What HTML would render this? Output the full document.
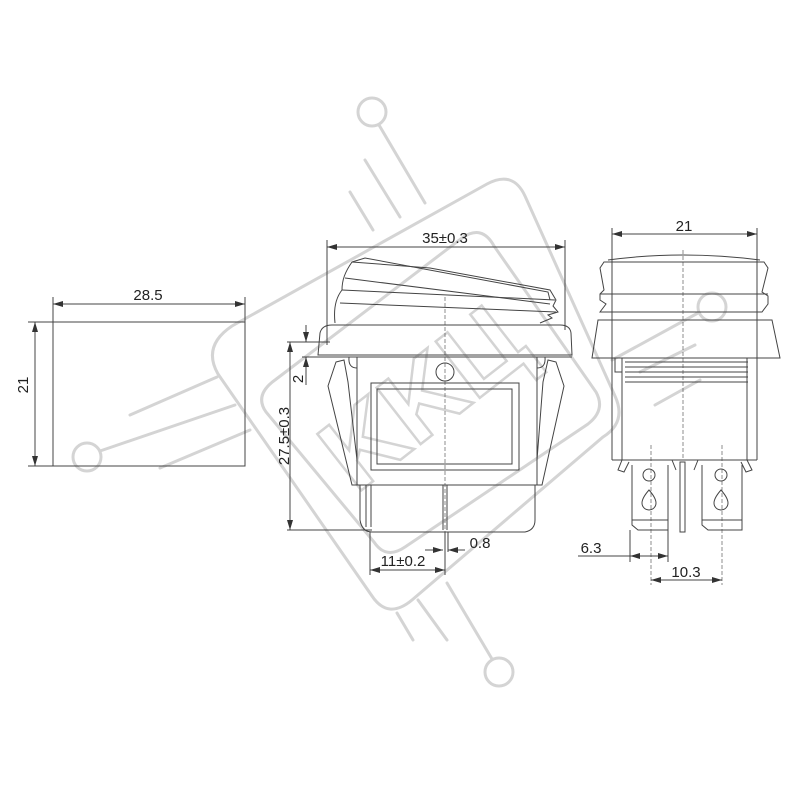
<!DOCTYPE html>
<html><head><meta charset="utf-8"><style>
html,body{margin:0;padding:0;background:#fff}
svg{display:block}
text{font-family:"Liberation Sans",sans-serif;fill:#222}
</style></head><body>
<svg width="800" height="800" viewBox="0 0 800 800" xmlns="http://www.w3.org/2000/svg">
<defs>
<marker id="a" viewBox="0 0 10 6" refX="10" refY="3" markerWidth="10" markerHeight="6" orient="auto-start-reverse" markerUnits="userSpaceOnUse"><path d="M0,0 L10,3 L0,6 z" fill="#333"/></marker>
</defs>
<!-- watermark -->
<g stroke="#d4d4d4" stroke-width="3" fill="none" stroke-linecap="round">
<path d="M232,326 L487,184 Q513,170 525,196 L615,396 Q627,422 603,437 L412,600 Q388,620 372,596 L218,374 Q202,346 232,326 Z"/>
<path d="M275,380 L462,238 Q482,224 494,246 L596,392 Q606,410 588,424 L405,547 Q386,560 374,542 L266,412 Q254,395 275,380 Z"/>
<circle cx="372" cy="112" r="14"/><circle cx="87" cy="457" r="14"/>
<circle cx="712" cy="307" r="14"/><circle cx="499" cy="672" r="14"/>
<line x1="379" y1="125" x2="425" y2="203"/>
<line x1="365" y1="160" x2="400" y2="217"/><line x1="350" y1="192" x2="373" y2="230"/>
<line x1="100" y1="451" x2="235" y2="405"/>
<line x1="130" y1="415" x2="217" y2="377"/><line x1="160" y1="468" x2="250" y2="430"/>
<line x1="698" y1="313" x2="612" y2="360"/>
<line x1="695" y1="345" x2="640" y2="372"/><line x1="700" y1="380" x2="655" y2="405"/>
<line x1="492" y1="659" x2="447" y2="583"/>
<line x1="418" y1="600" x2="447" y2="640"/><line x1="397" y1="613" x2="413" y2="640"/>
</g>
<text x="0" y="0" font-size="104" font-weight="bold" fill="none" stroke="#d4d4d4" stroke-width="2.5" text-anchor="middle" transform="translate(445 425) rotate(-38)" style="fill:none">KKЦ</text>

<g stroke="#444" stroke-width="1" fill="none">
<!-- left view -->
<rect x="53" y="322" width="192" height="144"/>
<line x1="53" y1="297" x2="53" y2="322"/><line x1="245" y1="297" x2="245" y2="322"/>
<line x1="53" y1="304" x2="245" y2="304" marker-start="url(#a)" marker-end="url(#a)"/>
<line x1="28" y1="322" x2="53" y2="322"/><line x1="28" y1="466" x2="53" y2="466"/>
<line x1="35" y1="322" x2="35" y2="466" marker-start="url(#a)" marker-end="url(#a)"/>

<!-- middle view -->
<line x1="327" y1="240" x2="327" y2="345"/><line x1="565" y1="240" x2="565" y2="330"/>
<line x1="327" y1="247" x2="565" y2="247" marker-start="url(#a)" marker-end="url(#a)"/>
<path d="M335,323 C333,305 338,295 342,290 C342,280 345,272 352,262 L430,268 L550,290 L556,300 L553,306 L558,312 L548,315 L552,318 L540,323"/>
<path d="M342,290 L555,300"/><path d="M340,303 L556,312"/><path d="M352,262 L365,258 L548,292 L550,300"/>
<path d="M345,278 L550,304"/>
<path d="M318,355 L320,333 Q322,325 332,325 L560,325 Q570,325 571,333 L572,355 Z"/>
<line x1="318" y1="357" x2="572" y2="357"/>
<rect x="357" y="357" width="180" height="128"/>
<rect x="371" y="383" width="148" height="87"/>
<rect x="377" y="389" width="135" height="75"/>
<circle cx="445" cy="372" r="9"/>
<path d="M349,357 Q348,368 357,368"/><path d="M545,357 Q546,368 537,368"/>
<path d="M336,362 L344,360 L348,382 L357,460 L357,485 L352,485 L328,386 Z"/>
<path d="M556,362 L548,360 L543,382 L537,460 L537,485 L542,485 L564,386 Z"/>
<path d="M360,485 L360,520 Q362,532 372,532 L525,532 Q535,530 535,520 L535,485"/>
<line x1="366" y1="485" x2="366" y2="527"/><line x1="371" y1="485" x2="371" y2="527"/>
<line x1="443" y1="485" x2="443" y2="530"/><line x1="447" y1="485" x2="447" y2="530"/>
<line x1="445" y1="297" x2="445" y2="575" stroke-dasharray="4,2" stroke-width="0.6"/>
<line x1="287" y1="342" x2="330" y2="342"/><line x1="287" y1="530" x2="372" y2="530"/>
<line x1="290" y1="342" x2="290" y2="530" marker-start="url(#a)" marker-end="url(#a)"/>
<line x1="306" y1="325" x2="306" y2="342" marker-end="url(#a)"/>
<line x1="306" y1="357" x2="306" y2="385" marker-start="url(#a)"/>
<line x1="302" y1="357" x2="318" y2="357"/>
<line x1="370" y1="532" x2="370" y2="575"/><line x1="445" y1="532" x2="445" y2="575"/>
<line x1="448" y1="532" x2="448" y2="552"/>
<line x1="370" y1="570" x2="445" y2="570" marker-start="url(#a)" marker-end="url(#a)"/>
<line x1="425" y1="550" x2="443" y2="550" marker-end="url(#a)"/>
<line x1="448" y1="550" x2="465" y2="550" marker-start="url(#a)"/>

<!-- right view -->
<line x1="612" y1="228" x2="612" y2="358"/><line x1="757" y1="228" x2="757" y2="358"/>
<line x1="612" y1="234" x2="757" y2="234" marker-start="url(#a)" marker-end="url(#a)"/>
<path d="M608,260 Q683,250 760,260"/>
<path d="M604,262 L764,262 L768,268 L762,292 L768,296 L768,304 L762,312 L600,312 L606,304 L600,300 L600,294 L604,290 L600,268 Z"/>
<line x1="600" y1="294" x2="768" y2="294"/>
<path d="M592,358 L598,320 L772,320 L780,358 Z"/>
<line x1="612" y1="358" x2="612" y2="460"/><line x1="757" y1="358" x2="757" y2="460"/>
<line x1="622" y1="358" x2="622" y2="460"/><line x1="747" y1="358" x2="747" y2="460"/>
<line x1="612" y1="460" x2="757" y2="460"/>
<path d="M615,358 L615,372 L622,372"/>
<line x1="625" y1="362" x2="748" y2="362"/><line x1="625" y1="367" x2="748" y2="367"/>
<line x1="625" y1="372" x2="748" y2="372"/><line x1="625" y1="377" x2="748" y2="377"/>
<line x1="625" y1="382" x2="748" y2="382"/>
<path d="M632,465 L632,525 L638,530 L668,530 L668,465"/>
<path d="M702,465 L702,525 L708,530 L742,530 L742,465"/>
<line x1="632" y1="520" x2="668" y2="520"/><line x1="702" y1="520" x2="742" y2="520"/>
<circle cx="649" cy="475" r="6"/><circle cx="721" cy="475" r="6"/>
<path d="M649,490 Q656,498 656,503 A7,7 0 0 1 642,503 Q642,498 649,490 Z"/>
<path d="M721,490 Q728,498 728,503 A7,7 0 0 1 714,503 Q714,498 721,490 Z"/>
<rect x="680" y="462" width="5" height="70"/>
<path d="M622,460 L618,470 L624,472 L629,462"/><path d="M747,460 L752,470 L746,472 L741,462"/>
<path d="M672,460 L676,470 M698,460 L694,470"/>
<line x1="683" y1="250" x2="683" y2="460" stroke-dasharray="4,2" stroke-width="0.6"/>
<line x1="651" y1="445" x2="651" y2="585" stroke-dasharray="4,2" stroke-width="0.6"/>
<line x1="722" y1="445" x2="722" y2="585" stroke-dasharray="4,2" stroke-width="0.6"/>
<line x1="630" y1="530" x2="630" y2="562"/><line x1="668" y1="530" x2="668" y2="562"/>
<line x1="578" y1="556" x2="630" y2="556"/>
<line x1="630" y1="556" x2="668" y2="556" marker-start="url(#a)" marker-end="url(#a)"/>
<line x1="651" y1="580" x2="722" y2="580" marker-start="url(#a)" marker-end="url(#a)"/>
</g>

<g font-size="15">
<text x="148" y="300" text-anchor="middle">28.5</text>
<text x="0" y="0" text-anchor="middle" transform="translate(28 385) rotate(-90)">21</text>
<text x="445" y="243" text-anchor="middle">35±0.3</text>
<text x="0" y="0" text-anchor="middle" transform="translate(289 436) rotate(-90)">27.5±0.3</text>
<text x="0" y="0" text-anchor="middle" transform="translate(303 379) rotate(-90)">2</text>
<text x="403" y="566" text-anchor="middle">11±0.2</text>
<text x="480" y="548" text-anchor="middle">0.8</text>
<text x="684" y="231" text-anchor="middle">21</text>
<text x="591" y="553" text-anchor="middle">6.3</text>
<text x="686" y="577" text-anchor="middle">10.3</text>
</g>
</svg>
</body></html>
